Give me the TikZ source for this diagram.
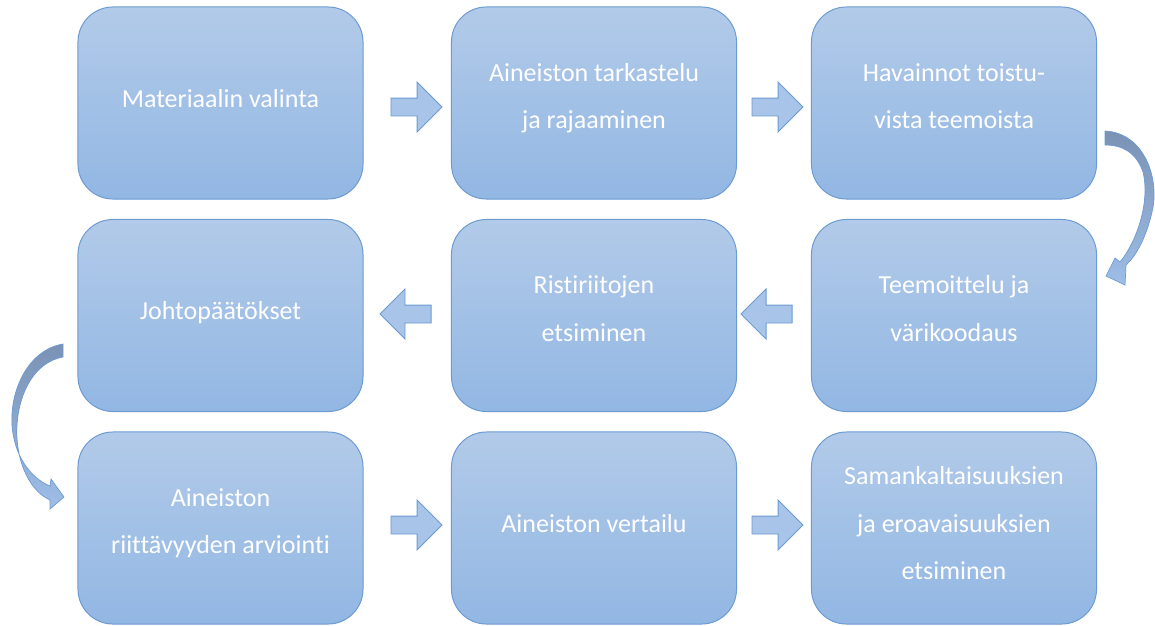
\documentclass[tikz,border=0pt]{standalone}
\usepackage{fontspec}
\setmainfont{Carlito}[Ligatures=NoCommon]
\usetikzlibrary{shapes.arrows}
\definecolor{boxtop}{RGB}{178,202,233}
\definecolor{boxbot}{RGB}{146,183,227}
\definecolor{boxline}{RGB}{108,155,210}
\definecolor{arrfill}{RGB}{168,196,232}
\definecolor{curvetop}{RGB}{122,146,180}
\definecolor{curvebot}{RGB}{158,190,232}
\begin{document}
\begin{tikzpicture}[
    x=0.025cm, y=-0.025cm,
    stepbox/.style={rectangle, rounded corners=0.875cm, draw=boxline, line width=0.7pt,
        top color=boxtop, bottom color=boxbot, minimum width=7.125cm, minimum height=4.8cm,
        text=white, align=center, font=\fontsize{18.5}{34}\selectfont},
    flowarrow/.style={single arrow, draw=boxline, line width=0.7pt, fill=arrfill,
        inner sep=0.2125cm, single arrow head extend=0.4cm, minimum height=1.275cm},
    bendarrow/.style={draw=boxline, line width=0.5pt, top color=curvetop, bottom color=curvebot}
]
    \useasboundingbox (0,0) rectangle (1155,625);

    % Row 1
    \node[stepbox] (s1) at (220.5,103) {Materiaalin valinta\\[-27pt]};
    \node[stepbox] (s2) at (594,103) {Aineiston tarkastelu\\ja rajaaminen\\[-24pt]};
    \node[stepbox] (s3) at (954,103) {Havainnot toistu-\\vista teemoista\\[-24pt]};

    % Row 2
    \node[stepbox] (s4) at (954,315.5) {Teemoittelu ja\\värikoodaus\\[-24pt]};
    \node[stepbox] (s5) at (594,315.5) {Ristiriitojen\\etsiminen\\[-24pt]};
    \node[stepbox] (s6) at (220.5,315.5) {Johtopäätökset\\[-27pt]};

    % Row 3
    \node[stepbox] (s7) at (220.5,528) {Aineiston\\riittävyyden arviointi\\[-24pt]};
    \node[stepbox] (s8) at (594,528) {Aineiston vertailu\\[-27pt]};
    \node[stepbox] (s9) at (954,528) {Samankaltaisuuksien\\ja eroavaisuuksien\\etsiminen\\[-27pt]};

    % Block arrows
    \node[flowarrow] (a12) at (412,107) {};
    \node[flowarrow] (a23) at (773,107) {};
    \node[flowarrow, shape border rotate=180] (a45) at (771,314) {};
    \node[flowarrow, shape border rotate=180] (a56) at (410,314) {};
    \node[flowarrow] (a78) at (412,525) {};
    \node[flowarrow] (a89) at (773,525) {};

    % Bent arrows between rows
    \draw[bendarrow] (1105,131) .. controls (1145,133) and (1160,180) .. (1152,212)
        .. controls (1146,238) and (1136,256) .. (1126,265) -- (1125,285) -- (1106,276)
        -- (1115,258) -- (1120,262) .. controls (1138,240) and (1150,200) .. (1143,172)
        .. controls (1136,152) and (1122,145) .. (1105,145) -- cycle;
    \draw[bendarrow] (63,344) .. controls (28,350) and (10,390) .. (12,425)
        .. controls (14,455) and (30,478) .. (50,486) -- (51,479) -- (64,497)
        -- (50,509) -- (50,500) .. controls (28,490) and (15,458) .. (17,425)
        .. controls (19,392) and (35,362) .. (63,357) -- cycle;
\end{tikzpicture}
\end{document}
